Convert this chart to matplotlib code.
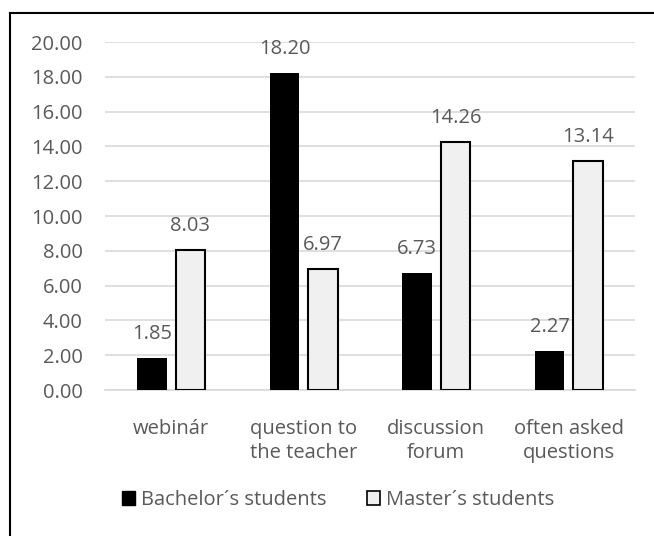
import numpy as np
import matplotlib
matplotlib.use("Agg")
from matplotlib import pyplot as plt
from matplotlib.lines import Line2D
from matplotlib.patches import Patch

categories = ["webinár", "question to\nthe teacher", "discussion\nforum", "often asked\nquestions"]
bachelor = [1.85, 18.20, 6.73, 2.27]
master = [8.03, 6.97, 14.26, 13.14]
series_names = ["Bachelor´s students", "Master´s students"]
y_ticks = np.arange(0, 21, 2)

plt.rcParams["font.family"] = ["Open Sans", "DejaVu Sans"]
text_color = "#595959"
fs = 14.5

fig = plt.figure(figsize=(6.54, 5.36), dpi=100)
W, H = 654, 536
ax = fig.add_axes([105 / W, 1 - 390 / H, 530 / W, 348 / H])

x = np.arange(len(categories))
width = 0.225
offset = 0.145
b1 = ax.bar(x - offset, bachelor, width, color="black", label=series_names[0], zorder=3)
b2 = ax.bar(x + offset, master, width, color="#f0f0f0", edgecolor="black", linewidth=1.5,
            label=series_names[1], zorder=3)

for bars, vals in ((b1, bachelor), (b2, master)):
    for bar, v in zip(bars, vals):
        ax.annotate(f"{v:.2f}", (bar.get_x() + bar.get_width() / 2, v),
                    xytext=(0, 10), textcoords="offset points",
                    ha="center", va="bottom", fontsize=fs, color=text_color)

ax.set_xlim(-0.5, len(categories) - 0.5)
ax.set_ylim(0, 20)
ax.set_yticks(y_ticks)
ax.set_yticklabels([f"{t:.2f}" for t in y_ticks])
ax.set_xticks(x)
ax.set_xticklabels(categories, linespacing=1.25)
ax.tick_params(axis="both", length=0, labelsize=fs, colors=text_color)
ax.tick_params(axis="y", pad=16)
ax.tick_params(axis="x", pad=21)
ax.yaxis.grid(True, color="#d9d9d9", linewidth=1.2, zorder=0)
for s in ("top", "right", "left"):
    ax.spines[s].set_visible(False)
ax.spines["bottom"].set_color("#d9d9d9")
ax.spines["bottom"].set_linewidth(1.2)

handles = [Patch(facecolor="black", edgecolor="black"),
           Patch(facecolor="#f0f0f0", edgecolor="black", linewidth=1.2)]
fig.legend(handles, series_names, loc="center", bbox_to_anchor=(338 / W, 1 - 500 / H),
           ncol=2, frameon=False, fontsize=fs, labelcolor=text_color,
           handlelength=0.65, handleheight=0.65, handletextpad=0.3, columnspacing=2.0)

# outer chart frame (right and bottom edges are cut off in the picture)
fig.add_artist(Line2D([10 / W, 1], [1 - 12.5 / H, 1 - 12.5 / H], color="black", linewidth=1.5))
fig.add_artist(Line2D([10 / W, 10 / W], [0, 1 - 12.5 / H], color="black", linewidth=1.5))

fig.savefig("out.png", dpi=100)
